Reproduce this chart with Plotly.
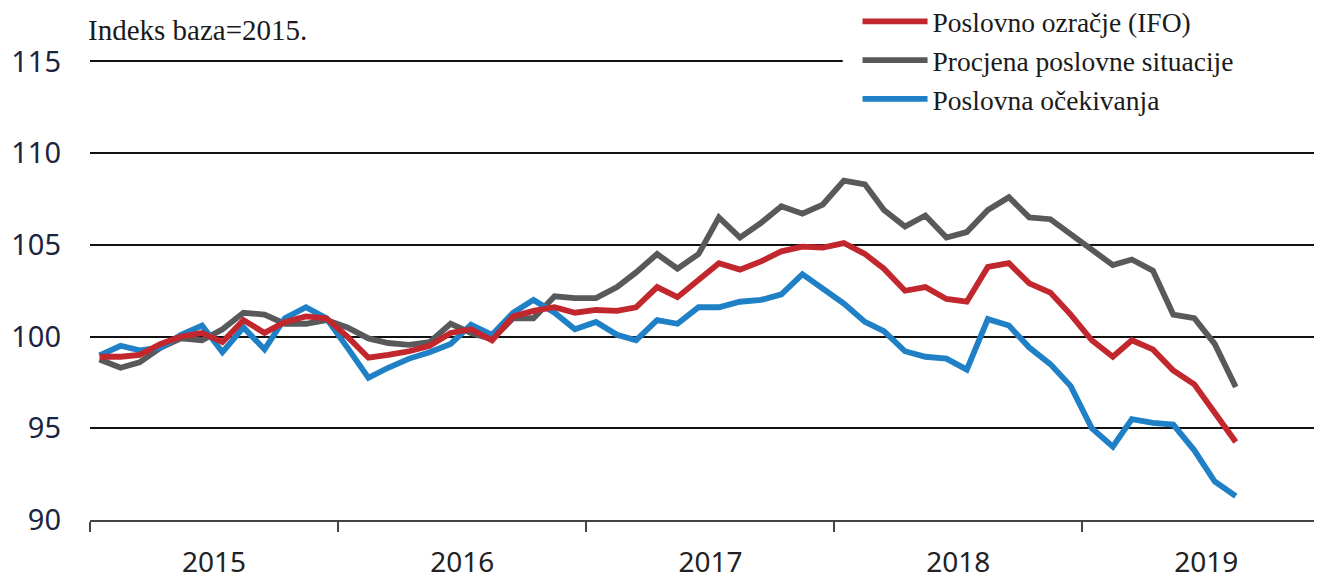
import plotly.graph_objects as go
import pandas as pd

# Monthly data, Jan 2015 - Aug 2019 (index, 2015 = 100)
start_month = "2015-01-01"
n_months = 56

ifo = [98.9, 98.9, 99.0, 99.6, 100.0, 100.2, 99.7, 100.9, 100.2, 100.8, 101.1, 101.0,
       100.0, 98.85, 99.0, 99.2, 99.5, 100.2, 100.4, 99.8, 101.1, 101.4, 101.6, 101.3,
       101.45, 101.4, 101.6, 102.7, 102.15, 103.1, 104.0, 103.65, 104.1, 104.65, 104.9, 104.85,
       105.1, 104.5, 103.7, 102.5, 102.7, 102.05, 101.9, 103.8, 104.0, 102.9, 102.4, 101.2,
       99.8, 98.9, 99.8, 99.3, 98.15, 97.4, 95.8, 94.25]

situacija = [98.75, 98.3, 98.6, 99.4, 99.9, 99.8, 100.4, 101.3, 101.2, 100.7, 100.7, 100.9,
             100.5, 99.9, 99.65, 99.55, 99.7, 100.7, 100.2, 99.85, 101.0, 101.0, 102.2, 102.1,
             102.1, 102.7, 103.5, 104.5, 103.7, 104.5, 106.5, 105.4, 106.2, 107.1, 106.7, 107.2,
             108.5, 108.3, 106.9, 106.0, 106.6, 105.4, 105.7, 106.9, 107.6, 106.5, 106.4, 105.6,
             104.7, 103.9, 104.2, 103.6, 101.2, 101.0, 99.6, 97.25]

ocekivanja = [98.97, 99.5, 99.25, 99.4, 100.1, 100.6, 99.15, 100.5, 99.3, 101.0, 101.6, 101.0,
              99.4, 97.75, 98.3, 98.8, 99.15, 99.6, 100.65, 100.1, 101.3, 102.0, 101.3, 100.4,
              100.8, 100.1, 99.8, 100.9, 100.7, 101.6, 101.6, 101.9, 102.0, 102.3, 103.4, 102.6,
              101.8, 100.8, 100.3, 99.2, 98.9, 98.8, 98.2, 100.95, 100.6, 99.4, 98.5, 97.3,
              95.0, 94.0, 95.5, 95.3, 95.2, 93.8, 92.1, 91.3]

names = ["Poslovno ozračje (IFO)", "Procjena poslovne situacije", "Poslovna očekivanja"]
colors = ["#C1272D", "#58595B", "#1F80C6"]

y_ticks = [90, 95, 100, 105, 110, 115]

months = pd.date_range(start_month, periods=n_months, freq="MS") + pd.Timedelta(days=14)

fig = go.Figure()
# draw order: grey, blue, red on top; legend order via legendrank
for series, idx in [(situacija, 1), (ocekivanja, 2), (ifo, 0)]:
    fig.add_trace(go.Scatter(
        x=months, y=series, name=names[idx], mode="lines",
        line=dict(color=colors[idx], width=5.8),
        legendrank=idx + 1, legendgroup=f"g{idx}",
    ))

# the page body adds an 8px margin, so the figure is 8px smaller and margins compensate
fig.update_layout(
    width=1314, height=571,
    margin=dict(l=82, r=0, t=52, b=59, autoexpand=False),
    paper_bgcolor="white", plot_bgcolor="white",
    showlegend=True,
    legend=dict(
        x=0.623, y=1.137, xanchor="left", yanchor="top",
        bgcolor="white", borderwidth=0,
        font=dict(family="Liberation Serif", size=27.5, color="#1a1a1a"),
        itemwidth=65, tracegroupgap=0,
    ),
    annotations=[dict(
        text="Indeks baza=2015.", xref="paper", yref="paper",
        x=-0.003, y=1.065, xanchor="left", yanchor="middle", showarrow=False,
        font=dict(family="Liberation Serif", size=29, color="#1a1a1a"),
    )],
    # white band behind the legend area: the top gridline stops where the legend begins
    shapes=[dict(
        type="rect", xref="paper", yref="paper",
        x0=0.611, x1=1.01, y0=0.985, y1=1.02,
        fillcolor="white", line=dict(width=0), layer="above",
    )],
    xaxis=dict(
        type="date", range=["2015-01-01", "2019-12-20"],
        tick0="2015-01-01", dtick="M12", tickformat="%Y", ticklabelmode="period",
        ticks="outside", ticklen=10, tickwidth=2, tickcolor="#444",
        showline=True, linecolor="#444", linewidth=2,
        showgrid=False, zeroline=False, ticklabelstandoff=6,
        tickfont=dict(family="Noto Sans", size=28, color="#222"),
    ),
    yaxis=dict(
        range=[90, 115.08], tickvals=y_ticks,
        showgrid=True, gridcolor="#111", gridwidth=1.6,
        zeroline=False, showline=False, ticks="",
        ticklabelstandoff=28,
        tickfont=dict(family="Noto Sans", size=29, color="#1c2340"),
    ),
)

fig.write_html("out.html")
